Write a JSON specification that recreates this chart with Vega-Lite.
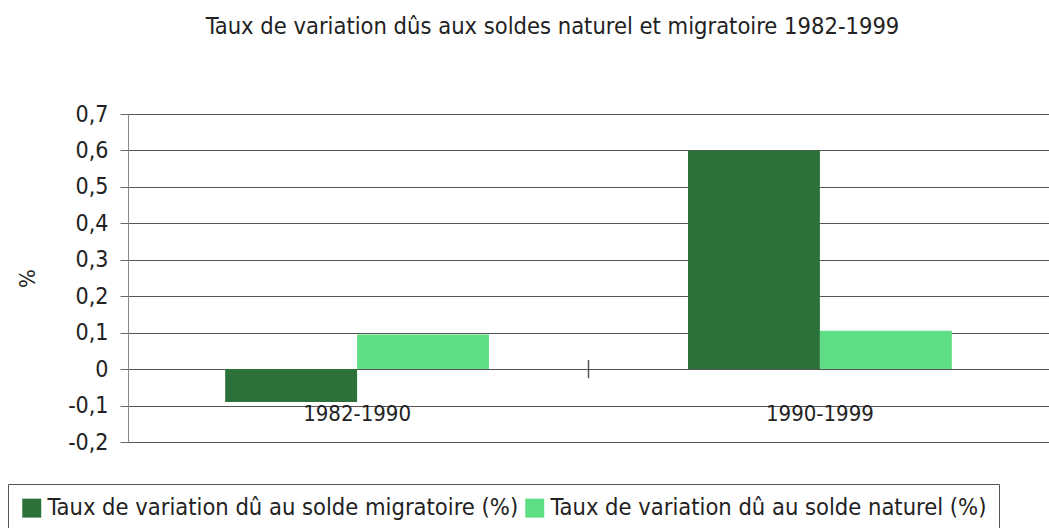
{
  "$schema": "https://vega.github.io/schema/vega-lite/v6.json",
  "width": 921,
  "height": 328,
  "autosize": {"type": "none"},
  "padding": {"left": 128, "top": 114, "right": 0, "bottom": 86},
  "background": "white",
  "title": {
    "text": "Taux de variation dûs aux soldes naturel et migratoire 1982-1999",
    "font": "DejaVu Sans Condensed",
    "fontSize": 23.5,
    "fontWeight": "normal",
    "color": "#222",
    "anchor": "middle",
    "dx": -36,
    "offset": 65
  },
  "datasets": {
    "barres": [
      {"periode": "1982-1990", "serie": "Taux de variation dû au solde migratoire (%)", "valeur": -0.09},
      {"periode": "1982-1990", "serie": "Taux de variation dû au solde naturel (%)", "valeur": 0.095},
      {"periode": "1990-1999", "serie": "Taux de variation dû au solde migratoire (%)", "valeur": 0.6},
      {"periode": "1990-1999", "serie": "Taux de variation dû au solde naturel (%)", "valeur": 0.105}
    ],
    "separateur": [
      {"pos": 1, "valeur": -0.025, "haut": 0.025}
    ]
  },
  "encoding": {
    "y": {
      "field": "valeur",
      "type": "quantitative",
      "scale": {"domain": [-0.2, 0.7], "nice": false, "zero": false},
      "axis": {
        "values": [-0.2, -0.1, 0, 0.1, 0.2, 0.3, 0.4, 0.5, 0.6, 0.7],
        "labelExpr": "replace(replace(format(datum.value, '.1~f'), '.', ','), '\u2212', '-')",
        "labelOverlap": false,
        "title": "%",
        "titleFont": "DejaVu Sans Condensed",
        "titleFontSize": 22,
        "titleFontWeight": "normal",
        "titleColor": "#222",
        "titlePadding": 28,
        "labelFont": "DejaVu Sans Condensed",
        "labelFontSize": 23,
        "labelColor": "#222",
        "labelPadding": 12,
        "tickSize": 8,
        "tickColor": "#666",
        "domainColor": "#888",
        "grid": true,
        "gridColor": "#555",
        "gridWidth": 1.2
      }
    }
  },
  "layer": [
    {
      "data": {"name": "barres"},
      "mark": {"type": "bar"},
      "encoding": {
        "x": {
          "field": "periode",
          "type": "nominal",
          "scale": {"paddingInner": 0.43, "paddingOuter": 0.21},
          "axis": {
            "title": null,
            "labelAngle": 0,
            "labelFont": "DejaVu Sans Condensed",
            "labelFontSize": 22,
            "labelColor": "#222",
            "domain": false,
            "ticks": false,
            "offset": -73,
            "labelPadding": 34,
            "zindex": 1
          }
        },
        "xOffset": {
          "field": "serie",
          "type": "nominal",
          "sort": ["Taux de variation dû au solde migratoire (%)", "Taux de variation dû au solde naturel (%)"],
          "scale": {"paddingInner": 0}
        },
        "color": {
          "field": "serie",
          "type": "nominal",
          "scale": {
            "domain": ["Taux de variation dû au solde migratoire (%)", "Taux de variation dû au solde naturel (%)"],
            "range": ["#2b7139", "#5fdf85"]
          },
          "legend": {
            "title": null,
            "orient": "none",
            "legendX": -120,
            "legendY": 370,
            "direction": "horizontal",
            "symbolType": "square",
            "symbolSize": 360,
            "symbolStrokeWidth": 0,
            "labelFont": "DejaVu Sans Condensed",
            "labelFontSize": 23.5,
            "labelColor": "#222",
            "labelLimit": 600,
            "columnPadding": 4,
            "labelOffset": 4,
            "strokeColor": "#555",
            "padding": 12
          }
        }
      }
    },
    {
      "data": {"name": "separateur"},
      "mark": {"type": "rule", "color": "#555", "strokeWidth": 1.5},
      "encoding": {
        "x": {"field": "pos", "type": "quantitative", "scale": {"domain": [0, 2]}, "axis": null},
        "y2": {"field": "haut"}
      }
    }
  ],
  "resolve": {"scale": {"x": "independent"}},
  "config": {
    "view": {"stroke": null}
  }
}
